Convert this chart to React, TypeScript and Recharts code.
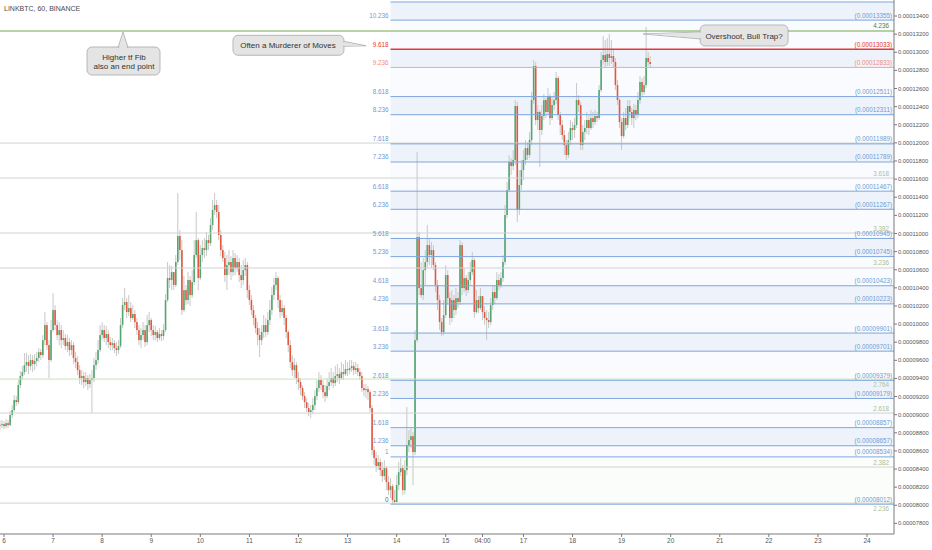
import React from 'react';
import { ComposedChart, Bar, XAxis, YAxis, ReferenceLine, ReferenceArea, ReferenceDot } from 'recharts';

// Hourly LINKBTC candles, prices in units of 1e-8 BTC. Bar index 0 = day 6 00:00.
const firstBar = -2;
const firstOpen = 8880;

const closes = [
  // day 6
  8885, 8896, 8874, 8907, 8885, 8996, 9051, 9161, 9139, 9327, 9426, 9470, 9547, 9581, 9537, 9603, 9559, 9592, 9625, 9691, 9658, 9823, 9989, 9768, 9603, 9934,
  // day 7
  10155, 9989, 9879, 9934, 9823, 9846, 9757, 9801, 9713, 9768, 9625, 9581, 9492, 9404, 9426, 9360, 9404, 9338, 9382, 9404, 9547, 9603, 9713, 9879,
  // day 8
  9934, 9846, 9890, 9801, 9768, 9790, 9735, 9713, 9757, 9989, 10210, 10243, 10133, 10177, 10067, 10111, 10022, 9934, 9823, 9879, 9934, 9801, 9989, 10044,
  // day 9
  9934, 9879, 9912, 9846, 9890, 9868, 9934, 10265, 10508, 10486, 10574, 10431, 10685, 10972, 10817, 10155, 10375, 10265, 10486, 10320, 10464, 10762, 10927, 10508,
  // day 10
  10762, 10839, 10817, 10927, 10894, 11093, 11259, 11314, 11237, 10983, 10817, 10729, 10541, 10652, 10685, 10574, 10729, 10618, 10685, 10541, 10486, 10596, 10652, 10375,
  // day 11
  10265, 10155, 10067, 9956, 9879, 9823, 9912, 9989, 9912, 10044, 10155, 10320, 10431, 10508, 10265, 10133, 10177, 10067, 9912, 9768, 9581, 9492, 9547, 9404,
  // day 12
  9360, 9294, 9205, 9139, 9073, 9029, 9051, 9106, 9205, 9294, 9382, 9327, 9249, 9205, 9316, 9360, 9404, 9349, 9426, 9448, 9404, 9470, 9448, 9503,
  // day 13
  9492, 9514, 9536, 9492, 9514, 9470, 9426, 9294, 9271, 9282, 9249, 9073, 8609, 8521, 8433, 8477, 8388, 8322, 8410, 8256, 8167, 8211, 8057, 8035,
  // day 14
  8223, 8366, 8410, 8167, 8388, 8664, 8719, 8763, 8587, 9823, 10960, 10398, 10320, 10596, 10685, 10872, 10762, 10817, 10652, 10431, 10265, 10022, 9912, 10100,
  // day 15
  10541, 10287, 10067, 10265, 10155, 10287, 10243, 10872, 10398, 10508, 10375, 10486, 10574, 10707, 10133, 10265, 10177, 10309,
  // day 16 (from 04:00)
  10133, 10067, 10044, 10022, 10210, 10353, 10287, 10486, 10431, 10508, 10685, 11204, 11479, 11789, 11745, 11811, 12407, 11259, 11535, 11700,
  // day 17
  11811, 11943, 11866, 12031, 12473, 12849, 12252, 12341, 12142, 12296, 12473, 12341, 12517, 12274, 12418, 12473, 12716, 12308, 12197, 12086, 11976, 11866, 12031, 12164,
  // day 18
  12142, 12197, 12473, 12418, 11976, 12120, 12164, 12252, 12164, 12274, 12230, 12296, 12274, 12583, 12915, 12970, 12893, 12981, 12937, 12959, 12893, 12638, 12473, 12230,
  // day 19
  12075, 12274, 12197, 12407, 12341, 12274, 12363, 12308, 12473, 12672, 12561, 12638, 12937, 12893, 12871,
];

const highs = [
  8940, 8940, 8929, 8952, 8940, 9040, 9106, 9216, 9205, 9382, 9481, 9537, 9680, 9680, 9658, 9669, 9658, 9669, 9691, 9735, 9724, 9878, 10133, 10022, 9823, 10044,
  10342, 10210, 10044, 10022, 9989, 9934, 9890, 9879, 9846, 9823, 9801, 9691, 9647, 9547, 9492, 9470, 9470, 9437, 9448, 9492, 9625, 9691, 9823, 9989,
  10022, 9989, 9978, 9934, 9857, 9846, 9823, 9801, 9823, 10067, 10287, 10398, 10287, 10320, 10243, 10210, 10155, 10067, 9989, 9956, 10022, 9989, 10100, 10133,
  10067, 9989, 9978, 9934, 9956, 9934, 10000, 10331, 10685, 10652, 10641, 10508, 10762, 11446, 11038, 10927, 10530, 10431, 10574, 10530, 10596, 10927, 11237, 10949,
  10872, 10927, 10949, 11016, 10983, 11170, 11369, 11446, 11369, 11314, 11038, 10872, 10795, 10762, 10817, 10751, 10817, 10784, 10762, 10729, 10652, 10707, 10729, 10685,
  10431, 10320, 10210, 10100, 10022, 9956, 9989, 10100, 10067, 10133, 10265, 10409, 10508, 10574, 10530, 10320, 10265, 10210, 10100, 9934, 9823, 9658, 9625, 9581,
  9470, 9404, 9327, 9249, 9183, 9128, 9106, 9183, 9271, 9382, 9470, 9437, 9382, 9327, 9404, 9470, 9514, 9470, 9537, 9559, 9514, 9581, 9559, 9603,
  9581, 9603, 9603, 9581, 9581, 9559, 9514, 9470, 9338, 9338, 9316, 9271, 9106, 8653, 8587, 8554, 8521, 8477, 8499, 8433, 8322, 8300, 8234, 8167,
  8333, 8477, 8521, 8444, 8499, 9084, 8830, 8852, 8808, 9934, 11899, 11016, 10685, 10729, 10817, 11093, 10949, 10905, 10872, 10685, 10486, 10320, 10067, 10265,
  10652, 10596, 10353, 10375, 10320, 10398, 10353, 10927, 10905, 10618, 10541, 10574, 10685, 10795, 10729, 10375, 10309, 10398,
  10265, 10199, 10155, 10133, 10287, 10431, 10431, 10574, 10552, 10574, 10762, 11314, 11568, 11866, 11833, 11921, 12473, 12451, 11700, 11811,
  11921, 12031, 12009, 12120, 12561, 12915, 12893, 12418, 12363, 12418, 12539, 12495, 12605, 12539, 12517, 12561, 12782, 12738, 12341, 12252, 12142, 12031, 12120, 12252,
  12230, 12274, 12661, 12528, 12451, 12197, 12252, 12341, 12308, 12363, 12341, 12363, 12341, 12638, 13003, 13180, 13135, 13157, 13202, 13135, 13025, 12937, 12694, 12495,
  12274, 12341, 12385, 12473, 12473, 12385, 12429, 12418, 12561, 12738, 12716, 12738, 13279, 13003, 12959,
];

const lows = [
  8830, 8852, 8841, 8852, 8852, 8874, 8963, 9029, 9095, 9117, 9294, 9382, 9437, 9470, 9448, 9492, 9470, 9492, 9537, 9581, 9603, 9625, 9768, 9713, 9404, 9581,
  9912, 9934, 9823, 9768, 9735, 9768, 9713, 9691, 9647, 9658, 9559, 9514, 9437, 9338, 9327, 9294, 9316, 9271, 9294, 9018, 9360, 9492, 9559, 9691,
  9823, 9801, 9768, 9735, 9713, 9713, 9680, 9647, 9669, 9735, 9956, 10155, 10067, 10089, 10022, 10044, 9956, 9879, 9768, 9735, 9823, 9746, 9768, 9912,
  9868, 9823, 9823, 9801, 9823, 9812, 9823, 9912, 10243, 10398, 10375, 10375, 10409, 10652, 10707, 10100, 10133, 10210, 10221, 10199, 10287, 10431, 10729, 10375,
  10486, 10685, 10729, 10751, 10817, 10861, 11038, 11204, 11170, 10927, 10751, 10685, 10464, 10375, 10541, 10486, 10530, 10541, 10574, 10464, 10398, 10431, 10530, 10287,
  10210, 10100, 9989, 9901, 9768, 9636, 9768, 9846, 9857, 9879, 9989, 10100, 10265, 10375, 10177, 10067, 10089, 9989, 9846, 9691, 9514, 9426, 9404, 9338,
  9271, 9216, 9161, 9073, 9029, 8985, 8963, 9007, 9051, 9161, 9249, 9271, 9183, 9139, 9183, 9271, 9316, 9294, 9316, 9360, 9338, 9382, 9382, 9426,
  9426, 9448, 9470, 9437, 9448, 9426, 9382, 9249, 9205, 9183, 9161, 9029, 8554, 8444, 8366, 8388, 8322, 8256, 8278, 8167, 8112, 8079, 8013, 8012,
  8057, 8167, 8322, 8112, 8123, 8333, 8587, 8631, 8223, 8554, 9801, 10320, 10287, 10265, 10431, 10618, 10652, 10618, 10596, 10353, 10155, 9934, 9868, 9879,
  10067, 10210, 9989, 10022, 10067, 10100, 10177, 10210, 10320, 10353, 10309, 10342, 10431, 10541, 10067, 10111, 10122, 10155,
  10044, 9989, 9823, 9956, 9989, 10155, 10221, 10265, 10375, 10398, 10464, 10652, 11170, 11457, 11645, 11700, 11756, 11126, 11204, 11479,
  11590, 11756, 11811, 11833, 11976, 12429, 12197, 12142, 11733, 12086, 12252, 12274, 12307, 12197, 12252, 12363, 12429, 12252, 12086, 12031, 11866, 11811, 11833, 11976,
  12031, 12053, 12164, 12341, 11921, 11921, 12031, 12098, 12086, 12142, 12164, 12197, 12230, 12252, 12561, 12860, 12827, 12849, 12849, 12871, 12827, 12583, 12418, 12164,
  11921, 12053, 12142, 12164, 12274, 12197, 12164, 12252, 12274, 12429, 12517, 12528, 12605, 12849, 12827,
];

const dayTicks = [0, 24, 48, 72, 96, 120, 144, 168, 192, 216, 234, 254, 278, 302, 326, 350, 374, 398, 422];
const dayTickLabels = ['6', '7', '8', '9', '10', '11', '12', '13', '14', '15', '04:00', '17', '18', '19', '20', '21', '22', '23', '24'];

const priceTicks = [7800, 8000, 8200, 8400, 8600, 8800, 9000, 9200, 9400, 9600, 9800, 10000, 10200, 10400, 10600,
  10800, 11000, 11200, 11400, 11600, 11800, 12000, 12200, 12400, 12600, 12800, 13000, 13200, 13400];

// Lower-timeframe Fibonacci extension (anchored at the swing low bar)
const fibLabels = ['10.618', '10.236', '9.618', '9.236', '8.618', '8.236', '7.618', '7.236', '6.618', '6.236', '5.618', '5.236',
  '4.618', '4.236', '3.618', '3.236', '2.618', '2.236', '1.618', '1.236', '1', '0'];
const fibValues = [13555, 13355, 13033, 12833, 12511, 12311, 11989, 11789, 11467, 11267, 10945, 10745,
  10423, 10223, 9901, 9701, 9379, 9179, 8857, 8657, 8534, 8012];
const fibStartBar = 189;

// Higher-timeframe Fibonacci levels (full width)
const htfLabels = ['4.236', '', '3.618', '3.382', '3.236', '2.764', '2.618', '2.382', '2.236'];
const htfValues = [13235, 11998, 11612, 11005, 10619, 9393, 9018, 8422, 8024];

const X_MIN = -1.96;
const X_MAX = 435.2;
const Y_MIN = 7683;
const Y_MAX = 13577;

const GREEN = '#53a66f';
const RED = '#e4573f';
const FIB_BLUE = '#7ea6dc';
const FIB_TEXT = '#6f9bd4';
const FONT = '"Liberation Sans", Arial, sans-serif';

const rows = closes.map((c, k) => {
  const o = k === 0 ? firstOpen : closes[k - 1];
  const h = highs[k];
  const l = lows[k];
  return { i: firstBar + k, o, c, h, l, range: [Math.min(l, o, c), Math.max(h, o, c)] };
});

function Candle(props: any) {
  const { x, y, width, height, payload } = props;
  if (!payload || x == null || y == null) return null;
  const { o, c, range } = payload;
  const lo = range[0];
  const hi = range[1];
  const yTop = height >= 0 ? y : y + height;
  const hh = Math.abs(height);
  const k = hi > lo ? hh / (hi - lo) : 0;
  const py = (v: number) => yTop + (hi - v) * k;
  const cx = x + width / 2;
  const up = c >= o;
  const b1 = py(Math.max(o, c));
  const b2 = py(Math.min(o, c));
  return (
    <g>
      <line x1={cx} x2={cx} y1={yTop} y2={yTop + hh} stroke="#c2c2c2" strokeWidth={0.9} />
      <rect x={cx - 0.8} y={b1} width={1.6} height={Math.max(b2 - b1, 0.9)} fill={up ? GREEN : RED} />
    </g>
  );
}

const fibLineColor = (lbl: string) => (lbl === '9.618' ? '#e53935' : lbl === '9.236' ? '#f4a3a3' : FIB_BLUE);
const fibTextColor = (lbl: string) => (lbl === '9.618' ? '#e53935' : lbl === '9.236' ? '#f28b82' : lbl === '0' ? '#666' : FIB_TEXT);
// higher-tf labels that would sit on top of a price label are drawn under their line
const htfBelow = (lbl: string) => lbl === '2.764' || lbl === '2.236';

const BOX_FILL = '#e4e4e4';
const BOX_STROKE = '#a9a9a9';

function CalloutUp(props: any) {
  const { cx, cy } = props;
  if (cx == null) return null;
  return (
    <g>
      <rect x={cx - 36} y={cy + 16} width={73} height={28} rx={5} fill={BOX_FILL} stroke={BOX_STROKE} strokeWidth={0.8} />
      <polygon points={`${cx - 5},${cy + 16.4} ${cx},${cy + 1} ${cx + 5},${cy + 16.4}`} fill={BOX_FILL} stroke={BOX_STROKE} strokeWidth={0.8} />
      <polygon points={`${cx - 4.2},${cy + 17.2} ${cx},${cy + 3} ${cx + 4.2},${cy + 17.2}`} fill={BOX_FILL} />
      <text x={cx + 1} y={cy + 29} textAnchor="middle" fontSize={8} fill="#333" fontFamily={FONT}>Higher tf Fib</text>
      <text x={cx + 1} y={cy + 38} textAnchor="middle" fontSize={8} fill="#333" fontFamily={FONT}>also an end point</text>
    </g>
  );
}

function CalloutRight(props: any) {
  const { cx, cy } = props;
  if (cx == null) return null;
  return (
    <g>
      <rect x={cx - 133} y={cy - 14} width={111} height={20} rx={5} fill={BOX_FILL} stroke={BOX_STROKE} strokeWidth={0.8} />
      <polygon points={`${cx - 22.4},${cy - 8} ${cx},${cy - 3.5} ${cx - 22.4},${cy - 3}`} fill={BOX_FILL} stroke={BOX_STROKE} strokeWidth={0.8} />
      <polygon points={`${cx - 23.5},${cy - 7.4} ${cx - 3},${cy - 3.6} ${cx - 23.5},${cy - 3.5}`} fill={BOX_FILL} />
      <text x={cx - 78} y={cy - 1} textAnchor="middle" fontSize={8} fill="#333" fontFamily={FONT}>Often a Murderer of Moves</text>
    </g>
  );
}

function CalloutLeft(props: any) {
  const { cx, cy } = props;
  if (cx == null) return null;
  return (
    <g>
      <rect x={cx + 57} y={cy - 10} width={88} height={21} rx={5} fill={BOX_FILL} stroke={BOX_STROKE} strokeWidth={0.8} />
      <polygon points={`${cx + 57.4},${cy - 3} ${cx},${cy - 1} ${cx + 57.4},${cy + 4}`} fill={BOX_FILL} stroke={BOX_STROKE} strokeWidth={0.8} />
      <polygon points={`${cx + 58.5},${cy - 2.4} ${cx + 4},${cy - 1} ${cx + 58.5},${cy + 3.4}`} fill={BOX_FILL} />
      <text x={cx + 101} y={cy + 4} textAnchor="middle" fontSize={8} fill="#333" fontFamily={FONT}>Overshoot, Bull Trap?</text>
    </g>
  );
}

export default function App() {
  return (
    <div style={{ position: 'absolute', left: 0, top: 0, width: 932, height: 550, background: '#fff' }}>
      <ComposedChart width={932} height={550} data={rows} margin={{ top: 0, right: 0, bottom: 0, left: 0 }}>
        <XAxis
          dataKey="i"
          type="number"
          domain={[X_MIN, X_MAX]}
          allowDataOverflow
          ticks={dayTicks}
          interval={0}
          height={16}
          tickSize={3}
          tickMargin={1}
          stroke="#7a7a7a"
          tick={{ fontSize: 6.5, fill: '#555', fontFamily: FONT }}
          tickFormatter={(v: number) => dayTickLabels[dayTicks.indexOf(v)] ?? ''}
        />
        <YAxis
          type="number"
          orientation="right"
          domain={[Y_MIN, Y_MAX]}
          allowDataOverflow
          ticks={priceTicks}
          interval={0}
          width={38}
          tickSize={3}
          tickMargin={1}
          stroke="#7a7a7a"
          tick={{ fontSize: 5.8, fill: '#555', fontFamily: FONT }}
          tickFormatter={(v: number) => (v / 1e8).toFixed(8)}
        />

        {fibValues.slice(0, -1).map((v, k) => (
          <ReferenceArea
            key={'band' + k}
            x1={fibStartBar}
            x2={X_MAX}
            y1={fibValues[k + 1]}
            y2={v}
            fill={k === fibValues.length - 2 ? '#7cc47f' : '#3f7fd6'}
            fillOpacity={k === fibValues.length - 2 ? 0.04 : k % 2 === 0 ? 0.09 : 0.03}
            stroke="none"
            ifOverflow="hidden"
          />
        ))}

        {htfValues.map((v, k) => (
          <ReferenceLine
            key={'htf' + k}
            y={v}
            stroke={k === 0 ? '#72a94a' : htfLabels[k] === '2.764' ? '#c9e2b8' : '#d2d2d2'}
            strokeWidth={k === 0 ? 1.1 : 1}
          />
        ))}

        {fibValues.map((v, k) => (
          <ReferenceLine
            key={'fib' + k}
            segment={[{ x: fibStartBar, y: v }, { x: X_MAX, y: v }]}
            stroke={fibLineColor(fibLabels[k])}
            strokeWidth={fibLabels[k] === '9.618' ? 1.6 : 1}
            ifOverflow="hidden"
          />
        ))}

        <Bar dataKey="range" barSize={2} isAnimationActive={false} shape={(p: any) => <Candle {...p} />} />

        {htfValues.map((v, k) =>
          htfLabels[k] ? (
            <ReferenceDot
              key={'htfl' + k}
              x={X_MAX}
              y={v}
              r={0}
              shape={(p: any) => (
                <text x={p.cx - 5} y={htfBelow(htfLabels[k]) ? p.cy + 7.5 : p.cy - 2.5} textAnchor="end" fontSize={6.3} fontFamily={FONT}
                  fill={k === 0 ? '#5d7f35' : '#aebf96'}>{htfLabels[k]}</text>
              )}
            />
          ) : null
        )}

        {fibValues.map((v, k) =>
          k > 0 ? (
            <ReferenceDot
              key={'fibl' + k}
              x={fibStartBar}
              y={v}
              r={0}
              shape={(p: any) => (
                <text x={p.cx - 2} y={p.cy - 2.5} textAnchor="end" fontSize={6.3} fontFamily={FONT}
                  fill={fibTextColor(fibLabels[k])}>{fibLabels[k]}</text>
              )}
            />
          ) : null
        )}

        {fibValues.map((v, k) =>
          k > 0 ? (
            <ReferenceDot
              key={'fibp' + k}
              x={X_MAX}
              y={v}
              r={0}
              shape={(p: any) => (
                <text x={p.cx - 2} y={p.cy - 2.5} textAnchor="end" fontSize={6.3} fontFamily={FONT}
                  fill={fibTextColor(fibLabels[k]) === '#666' ? FIB_TEXT : fibTextColor(fibLabels[k])}>
                  {'(' + (v / 1e8).toFixed(8) + ')'}
                </text>
              )}
            />
          ) : null
        )}

        <ReferenceDot x={58.2} y={htfValues[0]} r={0} shape={(p: any) => <CalloutUp {...p} />} />
        <ReferenceDot x={177} y={fibValues[2]} r={0} shape={(p: any) => <CalloutRight {...p} />} />
        <ReferenceDot x={312.5} y={13191} r={0} shape={(p: any) => <CalloutLeft {...p} />} />
      </ComposedChart>
      <div style={{ position: 'absolute', left: 4, top: 5, fontSize: 7, color: '#4a4a4a', fontFamily: FONT, whiteSpace: 'nowrap' }}>
        LINKBTC, 60, BINANCE
      </div>
    </div>
  );
}
